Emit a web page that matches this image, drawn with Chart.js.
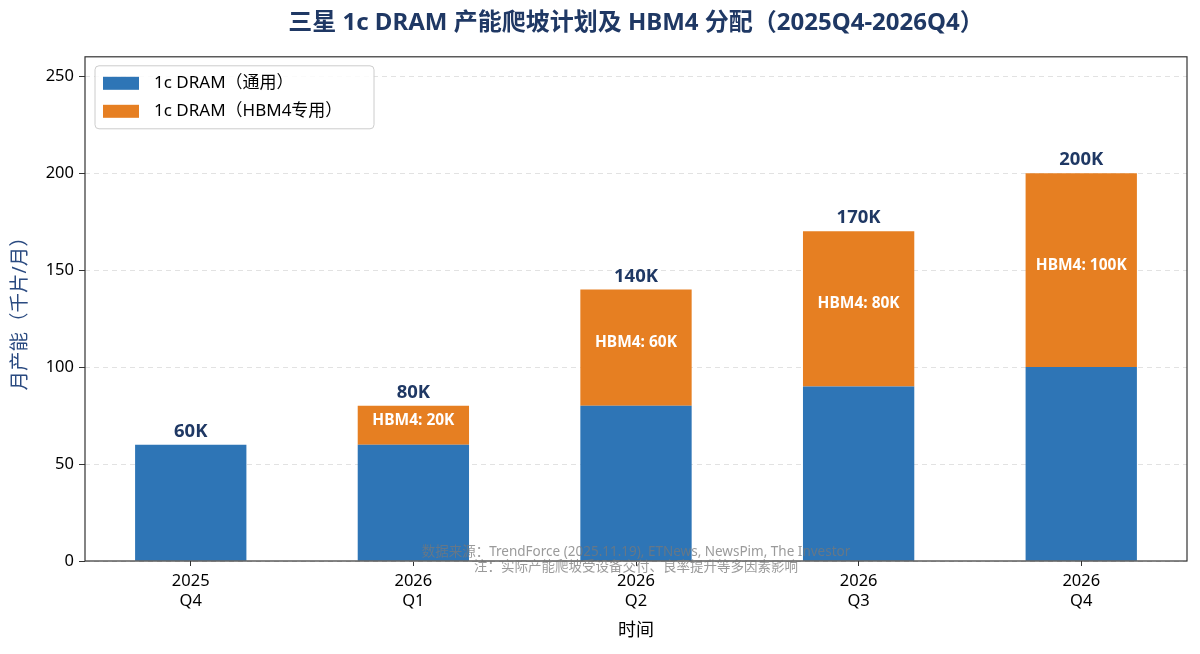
<!DOCTYPE html>
<html>
<head>
<meta charset="utf-8">
<script src="https://cdn.jsdelivr.net/npm/chart.js@4.4.1/dist/chart.umd.min.js"></script>
<style>
  body { margin: 0; background: #fff; }
</style>
</head>
<body>
<canvas id="capacity" width="1200" height="654"></canvas>
<script>
// 数据
const years = ['2025', '2026', '2026', '2026', '2026'];
const quarters = ['Q4', 'Q1', 'Q2', 'Q3', 'Q4'];
const generalUse = [60, 60, 80, 90, 100];
const hbm4Use = [0, 20, 60, 80, 100];
const totals = [60, 80, 140, 170, 200];
const yTicks = [0, 50, 100, 150, 200, 250];

const seriesNames = ['1c DRAM（通用）', '1c DRAM（HBM4专用）'];
const blue = '#2e75b6';
const orange = '#e67f22';
const navy = '#1f3864';
const fam = '"Noto Sans", "Noto Sans CJK SC", sans-serif';

const labelsPlugin = {
  id: 'barLabels',
  afterDatasetsDraw(chart) {
    const ctx = chart.ctx;
    const x = chart.scales.x, y = chart.scales.y;
    ctx.save();
    ctx.textAlign = 'center';
    for (let i = 0; i < totals.length; i++) {
      const px = x.getPixelForValue(i);
      ctx.fillStyle = navy;
      ctx.font = 'bold 18.5px ' + fam;
      ctx.textBaseline = 'bottom';
      ctx.fillText(totals[i] + 'K', px, y.getPixelForValue(totals[i]) - 4);
      if (hbm4Use[i] > 0) {
        const mid = (y.getPixelForValue(generalUse[i]) + y.getPixelForValue(generalUse[i] + hbm4Use[i])) / 2;
        ctx.fillStyle = '#fff';
        ctx.font = 'bold 15.5px ' + fam;
        ctx.textBaseline = 'middle';
        ctx.fillText('HBM4: ' + hbm4Use[i] + 'K', px, mid - 5);
      }
    }
    // 边框
    const a = chart.chartArea;
    ctx.strokeStyle = '#333';
    ctx.lineWidth = 1.2;
    ctx.strokeRect(a.left, a.top, a.right - a.left, a.bottom - a.top);
    ctx.restore();
  },
  afterDraw(chart) {
    const ctx = chart.ctx;
    const a = chart.chartArea;
    ctx.save();
    // 图例
    const lx = a.left + 10, ly = a.top + 9, lw = 279, lh = 63;
    ctx.fillStyle = 'rgba(255,255,255,0.85)';
    ctx.strokeStyle = '#cccccc';
    ctx.lineWidth = 1;
    ctx.beginPath();
    ctx.roundRect(lx, ly, lw, lh, 4);
    ctx.fill();
    ctx.stroke();
    chart.data.datasets.forEach((ds, k) => {
      const cy = ly + 17 + k * 28;
      ctx.fillStyle = ds.backgroundColor;
      ctx.fillRect(lx + 8, cy - 6, 36, 13);
      ctx.fillStyle = '#000';
      ctx.font = '17px ' + fam;
      ctx.textAlign = 'left';
      ctx.textBaseline = 'middle';
      ctx.fillText(ds.label, lx + 59, cy);
    });
    // 注释
    ctx.fillStyle = 'rgba(120,120,120,0.75)';
    ctx.font = '13.5px ' + fam;
    ctx.textAlign = 'center';
    ctx.textBaseline = 'middle';
    const cx = (a.left + a.right) / 2;
    ctx.fillText('数据来源：TrendForce (2025.11.19), ETNews, NewsPim, The Investor', cx, 552);
    ctx.fillText('注：实际产能爬坡受设备交付、良率提升等多因素影响', cx, 567);
    ctx.restore();
  }
};

new Chart(document.getElementById('capacity'), {
  type: 'bar',
  data: {
    datasets: [
      {
        label: seriesNames[0],
        data: generalUse.map((v, i) => ({ x: i, y: v })),
        backgroundColor: blue,
        barPercentage: 0.5,
        categoryPercentage: 1
      },
      {
        label: seriesNames[1],
        data: hbm4Use.map((v, i) => ({ x: i, y: v })),
        backgroundColor: orange,
        barPercentage: 0.5,
        categoryPercentage: 1
      }
    ]
  },
  options: {
    responsive: false,
    animation: false,
    devicePixelRatio: 1,
    layout: { padding: { right: 13, left: 0, bottom: 0 } },
    plugins: {
      legend: { display: false },
      tooltip: { enabled: false },
      title: {
        display: true,
        fullSize: false,
        text: '三星 1c DRAM 产能爬坡计划及 HBM4 分配（2025Q4-2026Q4）',
        color: navy,
        font: { family: fam, size: 24, weight: 'bold', lineHeight: 1.2 },
        padding: { top: 9, bottom: 19 }
      }
    },
    scales: {
      x: {
        type: 'linear',
        stacked: true,
        offset: false,
        min: -0.475,
        max: 4.475,
        afterBuildTicks: s => { s.ticks = quarters.map((q, i) => ({ value: i })); },
        afterFit: s => { s.height = 93; },
        grid: { offset: false, drawOnChartArea: false, drawTicks: true, tickLength: 5, tickColor: '#333' },
        border: { display: false },
        ticks: {
          color: '#000',
          padding: 5,
          maxRotation: 0,
          font: { family: fam, size: 16.5, lineHeight: 1.22 },
          callback: v => [years[v], quarters[v]]
        },
        title: {
          display: true,
          text: '时间',
          color: '#000',
          font: { family: fam, size: 18 },
          padding: { top: 4, bottom: 12 }
        }
      },
      y: {
        stacked: true,
        min: 0,
        max: 260,
        afterBuildTicks: s => { s.ticks = yTicks.map(v => ({ value: v })); },
        afterFit: s => { s.width = 85; },
        grid: { color: '#e2e2e2', lineWidth: 1, tickLength: 6, tickColor: '#333', tickBorderDash: [] },
        border: { display: false, dash: [5, 4] },
        ticks: {
          color: '#000',
          padding: 5,
          font: { family: fam, size: 16.5 }
        },
        title: {
          display: true,
          text: '月产能（千片/月）',
          color: '#2a4a80',
          font: { family: fam, size: 19.5 },
          padding: { top: 9, bottom: 0 }
        }
      }
    }
  },
  plugins: [labelsPlugin]
});
</script>
</body>
</html>
